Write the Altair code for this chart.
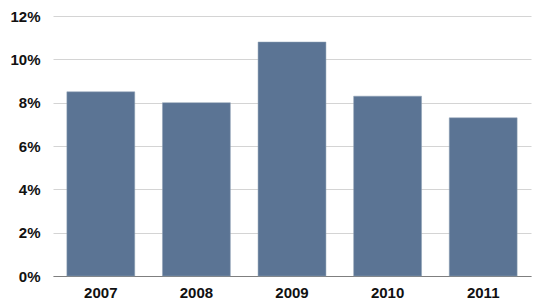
import altair as alt
import pandas as pd

years = ["2007", "2008", "2009", "2010", "2011"]
values = [8.5, 8.0, 10.8, 8.3, 7.3]
y_ticks = [0, 2, 4, 6, 8, 10, 12]

df = pd.DataFrame({"year": years, "value": values})

chart = alt.Chart(df).mark_bar(color="#5b7494", stroke="#8fa0b5", strokeWidth=0.5).encode(
    x=alt.X("year:N", sort=years,
            scale=alt.Scale(paddingInner=0.29, paddingOuter=0.145),
            axis=alt.Axis(title=None, labelAngle=0, ticks=False, domain=True,
                          domainColor="#7f7f7f", domainWidth=1.2,
                          labelFont="Liberation Sans", labelFontWeight="bold",
                          labelFontSize=15, labelColor="#111111", labelPadding=9,
                          grid=False)),
    y=alt.Y("value:Q", scale=alt.Scale(domain=[0, 12], nice=False),
            axis=alt.Axis(title=None, values=y_ticks, labelExpr="datum.value + '%'",
                          ticks=False, domain=False, grid=True,
                          gridColor="#d4d4d4", gridWidth=1,
                          labelFont="Liberation Sans", labelFontWeight="bold",
                          labelFontSize=15, labelColor="#111111", labelPadding=13)),
).properties(
    width=478, height=260,
    background="white",
    autosize=alt.AutoSizeParams(type="none"),
    padding={"left": 53, "top": 16, "right": 16, "bottom": 30},
).configure_view(stroke=None, strokeWidth=0)

chart.save("out.html", embed_options={"renderer": "svg", "actions": False})
